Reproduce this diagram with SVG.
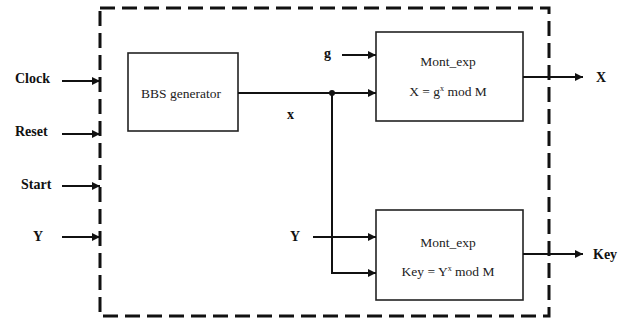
<svg xmlns="http://www.w3.org/2000/svg" width="629" height="326" viewBox="0 0 629 326" font-family="'Liberation Serif', 'Times New Roman', 'DejaVu Serif', serif">
<style>
text{font-family:'Liberation Serif','Times New Roman','DejaVu Serif',serif}
.lbl{font-size:14px;font-weight:bold;fill:#111}
.box{fill:#fff;stroke:#222;stroke-width:1.6}
.bt{font-size:13.5px;fill:#222;text-anchor:middle}
.w{fill:none;stroke:#111;stroke-width:2}
.border{fill:none;stroke:#111;stroke-width:3;stroke-dasharray:15 7}
</style>
<defs>
<marker id="ah" viewBox="0 0 10 10" refX="10" refY="5" markerWidth="9" markerHeight="8" markerUnits="userSpaceOnUse" orient="auto">
<path d="M0,0 L10,5 L0,10 z" fill="#111"/>
</marker>
</defs>
<rect class="border" x="100" y="8" width="449" height="308"/>
<g id="inputs">
<text class="lbl" x="15" y="83">Clock</text>
<text class="lbl" x="15" y="136">Reset</text>
<text class="lbl" x="21" y="189">Start</text>
<text class="lbl" x="33" y="241">Y</text>
</g>
<g id="bbs">
<rect class="box" x="128" y="53" width="110" height="78"/>
<text class="bt" x="181" y="98">BBS generator</text>
</g>
<g id="mont1">
<rect class="box" x="376" y="32" width="147" height="89"/>
<text class="bt" x="448" y="66">Mont_exp</text>
<text class="bt" x="448" y="96">X = g<tspan font-size="8" dy="-5">x</tspan><tspan dy="5"> mod M</tspan></text>
</g>
<g id="mont2">
<rect class="box" x="376" y="210" width="147" height="90"/>
<text class="bt" x="448" y="247">Mont_exp</text>
<text class="bt" x="448" y="276">Key = Y<tspan font-size="8" dy="-5">x</tspan><tspan dy="5"> mod M</tspan></text>
</g>
<g id="labels">
<text class="lbl" x="287" y="119">x</text>
<text class="lbl" x="324" y="58">g</text>
<text class="lbl" x="290" y="241">Y</text>
<text class="lbl" x="596" y="82">X</text>
<text class="lbl" x="593" y="259">Key</text>
</g>
<g id="connectors">
<line class="w" x1="62" y1="81" x2="100" y2="81" marker-end="url(#ah)"/>
<line class="w" x1="62" y1="134" x2="100" y2="134" marker-end="url(#ah)"/>
<line class="w" x1="62" y1="186" x2="100" y2="186" marker-end="url(#ah)"/>
<line class="w" x1="62" y1="237" x2="100" y2="237" marker-end="url(#ah)"/>
<line class="w" x1="238" y1="93" x2="376" y2="93" marker-end="url(#ah)"/>
<circle cx="332" cy="93" r="3" fill="#111"/>
<polyline class="w" points="332,93 332,273 376,273" marker-end="url(#ah)"/>
<line class="w" x1="342" y1="55" x2="376" y2="55" marker-end="url(#ah)"/>
<line class="w" x1="313" y1="237" x2="376" y2="237" marker-end="url(#ah)"/>
<line class="w" x1="523" y1="77" x2="583" y2="77" marker-end="url(#ah)"/>
<line class="w" x1="523" y1="254" x2="583" y2="254" marker-end="url(#ah)"/>
</g>
</svg>
